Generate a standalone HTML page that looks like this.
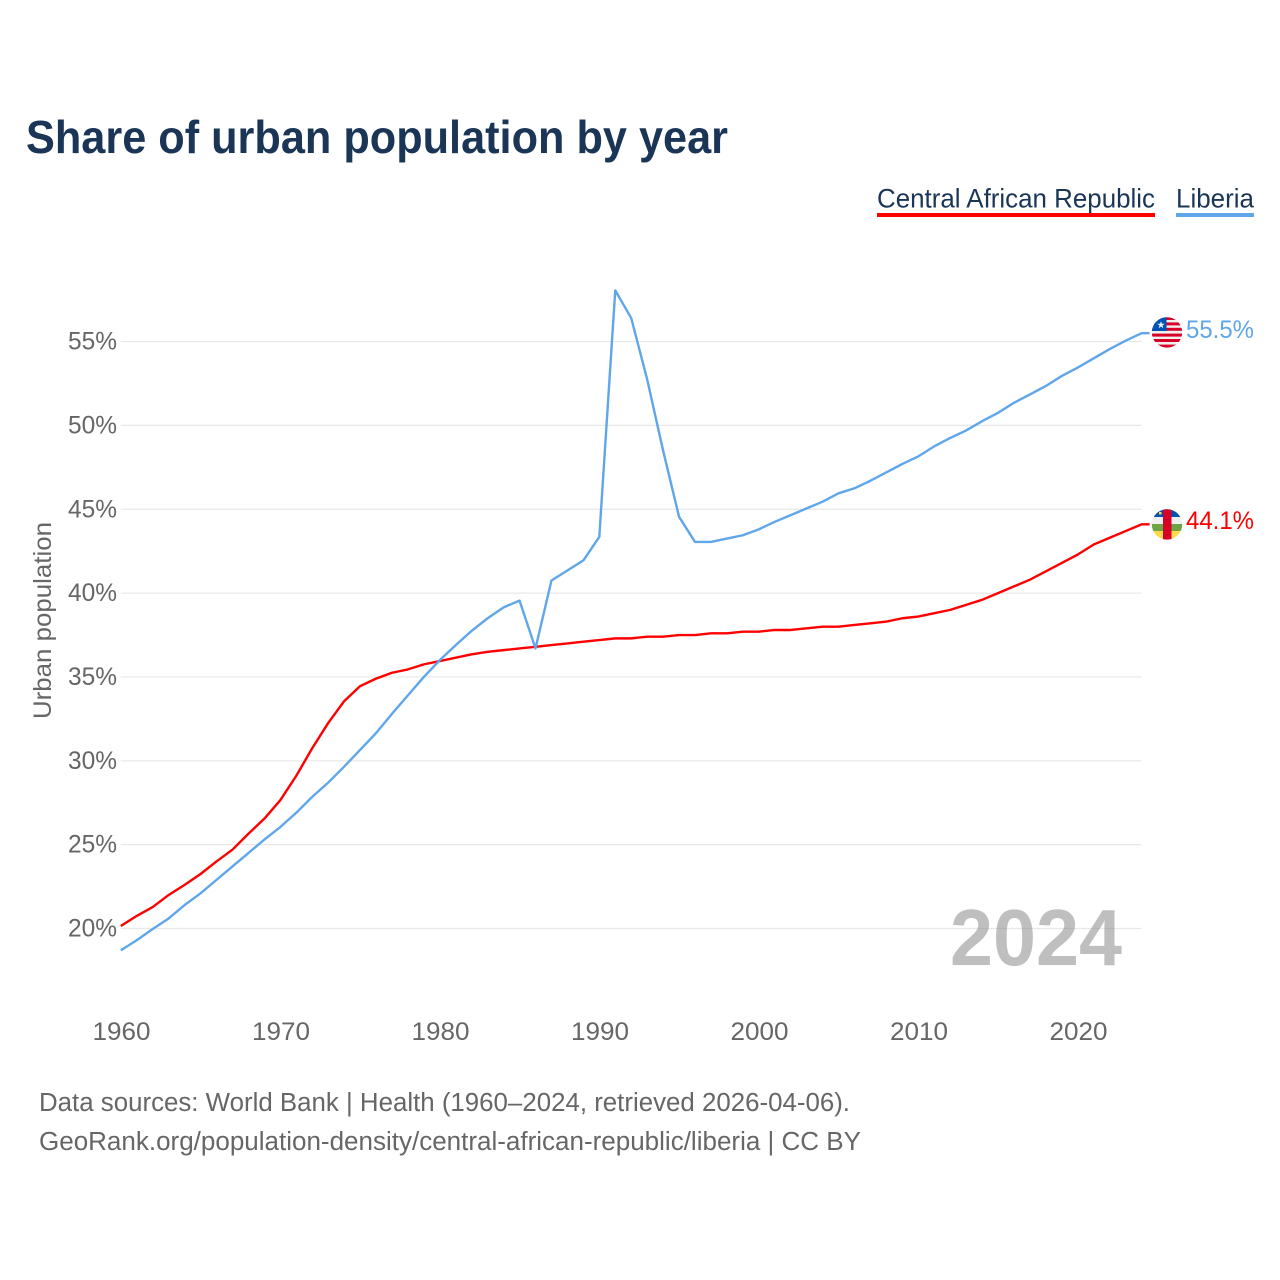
<!DOCTYPE html>
<html lang="en">
<head>
<meta charset="utf-8">
<title>Share of urban population by year</title>
<style>
html,body{margin:0;padding:0;background:#fff;width:1280px;height:1280px;overflow:hidden}
svg{display:block}
text{font-family:"Liberation Sans",sans-serif}
</style>
</head>
<body>
<svg id="chart" xmlns="http://www.w3.org/2000/svg" width="1280" height="1280" viewBox="0 0 1280 1280">
  <defs>
    <clipPath id="clip-lr"><circle cx="1167" cy="332.4" r="15.2"/></clipPath>
    <clipPath id="clip-cf"><circle cx="1167" cy="524.4" r="15.2"/></clipPath>
  </defs>
  <rect width="1280" height="1280" fill="#fff"/>
  <text x="26" y="153" font-size="46" font-weight="700" fill="#1a3556" textLength="702" lengthAdjust="spacingAndGlyphs">Share of urban population by year</text>

  <g>
    <g>
      <text x="877" y="207.5" font-size="27" fill="#1a3556" textLength="278" lengthAdjust="spacingAndGlyphs">Central African Republic</text>
      <rect x="877" y="213" width="278" height="4" fill="#ff0000"/>
    </g>
    <g>
      <text x="1176" y="207.5" font-size="27" fill="#1a3556" textLength="78" lengthAdjust="spacingAndGlyphs">Liberia</text>
      <rect x="1176" y="213" width="78" height="4" fill="#5fa6ea"/>
    </g>
  </g>

  <g id="grid"></g>
  <g id="y-ticks"></g>
  <g id="x-ticks"></g>

  <text transform="translate(51,620.5) rotate(-90)" text-anchor="middle" font-size="25" fill="#666" textLength="197" lengthAdjust="spacingAndGlyphs">Urban population</text>

  <text x="950" y="965" font-size="80" font-weight="700" fill="#808080" fill-opacity="0.5" textLength="172" lengthAdjust="spacingAndGlyphs">2024</text>

  <g id="series"></g>

  <g clip-path="url(#clip-lr)">
    <rect x="1151" y="316" width="32" height="33" fill="#f0f0f0"/>
    <g fill="#d80027">
      <rect x="1151" y="317" width="32" height="3"/>
      <rect x="1151" y="322.4" width="32" height="3"/>
      <rect x="1151" y="327.8" width="32" height="3"/>
      <rect x="1151" y="333.6" width="32" height="3"/>
      <rect x="1151" y="339" width="32" height="3"/>
      <rect x="1151" y="344.6" width="32" height="3.4"/>
    </g>
    <rect x="1151" y="316" width="15.5" height="15" fill="#0052b4"/>
    <polygon points="1161,321 1161.9,323.7 1164.8,323.7 1162.5,325.4 1163.3,328.2 1161,326.5 1158.7,328.2 1159.5,325.4 1157.2,323.7 1160.1,323.7" fill="#f0f0f0"/>
  </g>
  <text x="1186" y="338" font-size="25" fill="#5fa6ea" textLength="68" lengthAdjust="spacingAndGlyphs">55.5%</text>

  <g clip-path="url(#clip-cf)">
    <rect x="1151" y="508" width="32" height="9" fill="#0052b4"/>
    <rect x="1151" y="517" width="32" height="7" fill="#f0f0f0"/>
    <rect x="1151" y="524" width="32" height="7" fill="#6da544"/>
    <rect x="1151" y="531" width="32" height="10" fill="#ffda44"/>
    <rect x="1163" y="508" width="8.5" height="33" fill="#d80027"/>
    <rect x="1159" y="512" width="2.5" height="2.5" fill="#ffda44"/>
  </g>
  <text x="1186" y="529" font-size="25" fill="#ff0000" textLength="68" lengthAdjust="spacingAndGlyphs">44.1%</text>

  <text x="39" y="1111" font-size="25.5" fill="#666" textLength="811" lengthAdjust="spacingAndGlyphs">Data sources: World Bank | Health (1960–2024, retrieved 2026-04-06).</text>
  <text x="39" y="1150" font-size="25.5" fill="#666" textLength="822" lengthAdjust="spacingAndGlyphs">GeoRank.org/population-density/central-african-republic/liberia | CC BY</text>
</svg>
<script>
const years = [];
for (let y = 1960; y <= 2024; y++) years.push(y);
const yTickValues = [20, 25, 30, 35, 40, 45, 50, 55];
const xTickValues = [1960, 1970, 1980, 1990, 2000, 2010, 2020];
const carValues = [
  20.15, 20.75, 21.28, 22.0, 22.6, 23.25, 24.0, 24.7, 25.65, 26.55,
  27.65, 29.1, 30.75, 32.25, 33.55, 34.45, 34.9, 35.25, 35.45, 35.75,
  35.95, 36.15, 36.35, 36.5, 36.6, 36.7, 36.8, 36.9, 37.0, 37.1,
  37.2, 37.3, 37.3, 37.4, 37.4, 37.5, 37.5, 37.6, 37.6, 37.7,
  37.7, 37.8, 37.8, 37.9, 38.0, 38.0, 38.1, 38.2, 38.3, 38.5,
  38.6, 38.8, 39.0, 39.3, 39.6, 40.0, 40.4, 40.8, 41.3, 41.8,
  42.3, 42.9, 43.3, 43.7, 44.1
];
const liberiaValues = [
  18.7, 19.3, 19.97, 20.6, 21.4, 22.1, 22.9, 23.7, 24.5, 25.3,
  26.05, 26.9, 27.85, 28.7, 29.65, 30.65, 31.65, 32.8, 33.9, 35.0,
  36.0, 36.9, 37.75, 38.5, 39.15, 39.55, 36.7, 40.75, 41.35, 41.95,
  43.35, 58.05, 56.4, 52.75, 48.5, 44.55, 43.05, 43.05, 43.25, 43.45,
  43.8, 44.25, 44.65, 45.05, 45.45, 45.95, 46.25, 46.7, 47.2, 47.7,
  48.15, 48.75, 49.25, 49.7, 50.25, 50.75, 51.35, 51.85, 52.35, 52.95,
  53.45, 54.0, 54.55, 55.05, 55.5
];

const NS = 'http://www.w3.org/2000/svg';
const xScale = function (year) { return 120.8 + (year - 1960) * 15.95; };
const yScale = function (value) { return 928.5 - (value - 20) * 16.77; };

const gridGroup = document.getElementById('grid');
const yTickGroup = document.getElementById('y-ticks');
const xTickGroup = document.getElementById('x-ticks');
const seriesGroup = document.getElementById('series');

yTickValues.forEach(function (v) {
  const line = document.createElementNS(NS, 'line');
  line.setAttribute('x1', xScale(1960));
  line.setAttribute('x2', xScale(2024));
  line.setAttribute('y1', yScale(v));
  line.setAttribute('y2', yScale(v));
  line.setAttribute('stroke', '#e8e8e8');
  line.setAttribute('stroke-width', '1.2');
  
  
  gridGroup.appendChild(line);

  const label = document.createElementNS(NS, 'text');
  label.setAttribute('x', 117);
  label.setAttribute('y', yScale(v) + 8);
  label.setAttribute('text-anchor', 'end');
  label.setAttribute('font-size', '25');
  label.setAttribute('fill', '#666');
  label.setAttribute('textLength', '49');
  label.setAttribute('lengthAdjust', 'spacingAndGlyphs');
  label.textContent = v + '%';
  
  
  yTickGroup.appendChild(label);
});

xTickValues.forEach(function (yr) {
  const label = document.createElementNS(NS, 'text');
  label.setAttribute('x', xScale(yr) + 0.7);
  label.setAttribute('y', 1040);
  label.setAttribute('text-anchor', 'middle');
  label.setAttribute('font-size', '25');
  label.setAttribute('fill', '#666');
  label.setAttribute('textLength', '58');
  label.setAttribute('lengthAdjust', 'spacingAndGlyphs');
  label.textContent = yr;
  
  
  xTickGroup.appendChild(label);
});

function buildPath(values) {
  let d = '';
  values.forEach(function (v, i) {
    d += (i === 0 ? 'M' : 'L') + xScale(years[i]).toFixed(2) + ' ' + yScale(v).toFixed(2);
  });
  d += 'L' + (xScale(years[years.length - 1]) + 8).toFixed(2) + ' ' + yScale(values[values.length - 1]).toFixed(2);
  return d;
}

const carLine = document.createElementNS(NS, 'path');
carLine.setAttribute('d', buildPath(carValues));
carLine.setAttribute('fill', 'none');
carLine.setAttribute('stroke', '#ff0000');
carLine.setAttribute('stroke-width', '2.4');
carLine.setAttribute('stroke-linejoin', 'round');


seriesGroup.appendChild(carLine);

const liberiaLine = document.createElementNS(NS, 'path');
liberiaLine.setAttribute('d', buildPath(liberiaValues));
liberiaLine.setAttribute('fill', 'none');
liberiaLine.setAttribute('stroke', '#5fa6ea');
liberiaLine.setAttribute('stroke-width', '2.4');
liberiaLine.setAttribute('stroke-linejoin', 'round');


seriesGroup.appendChild(liberiaLine);
</script>
</body>
</html>
